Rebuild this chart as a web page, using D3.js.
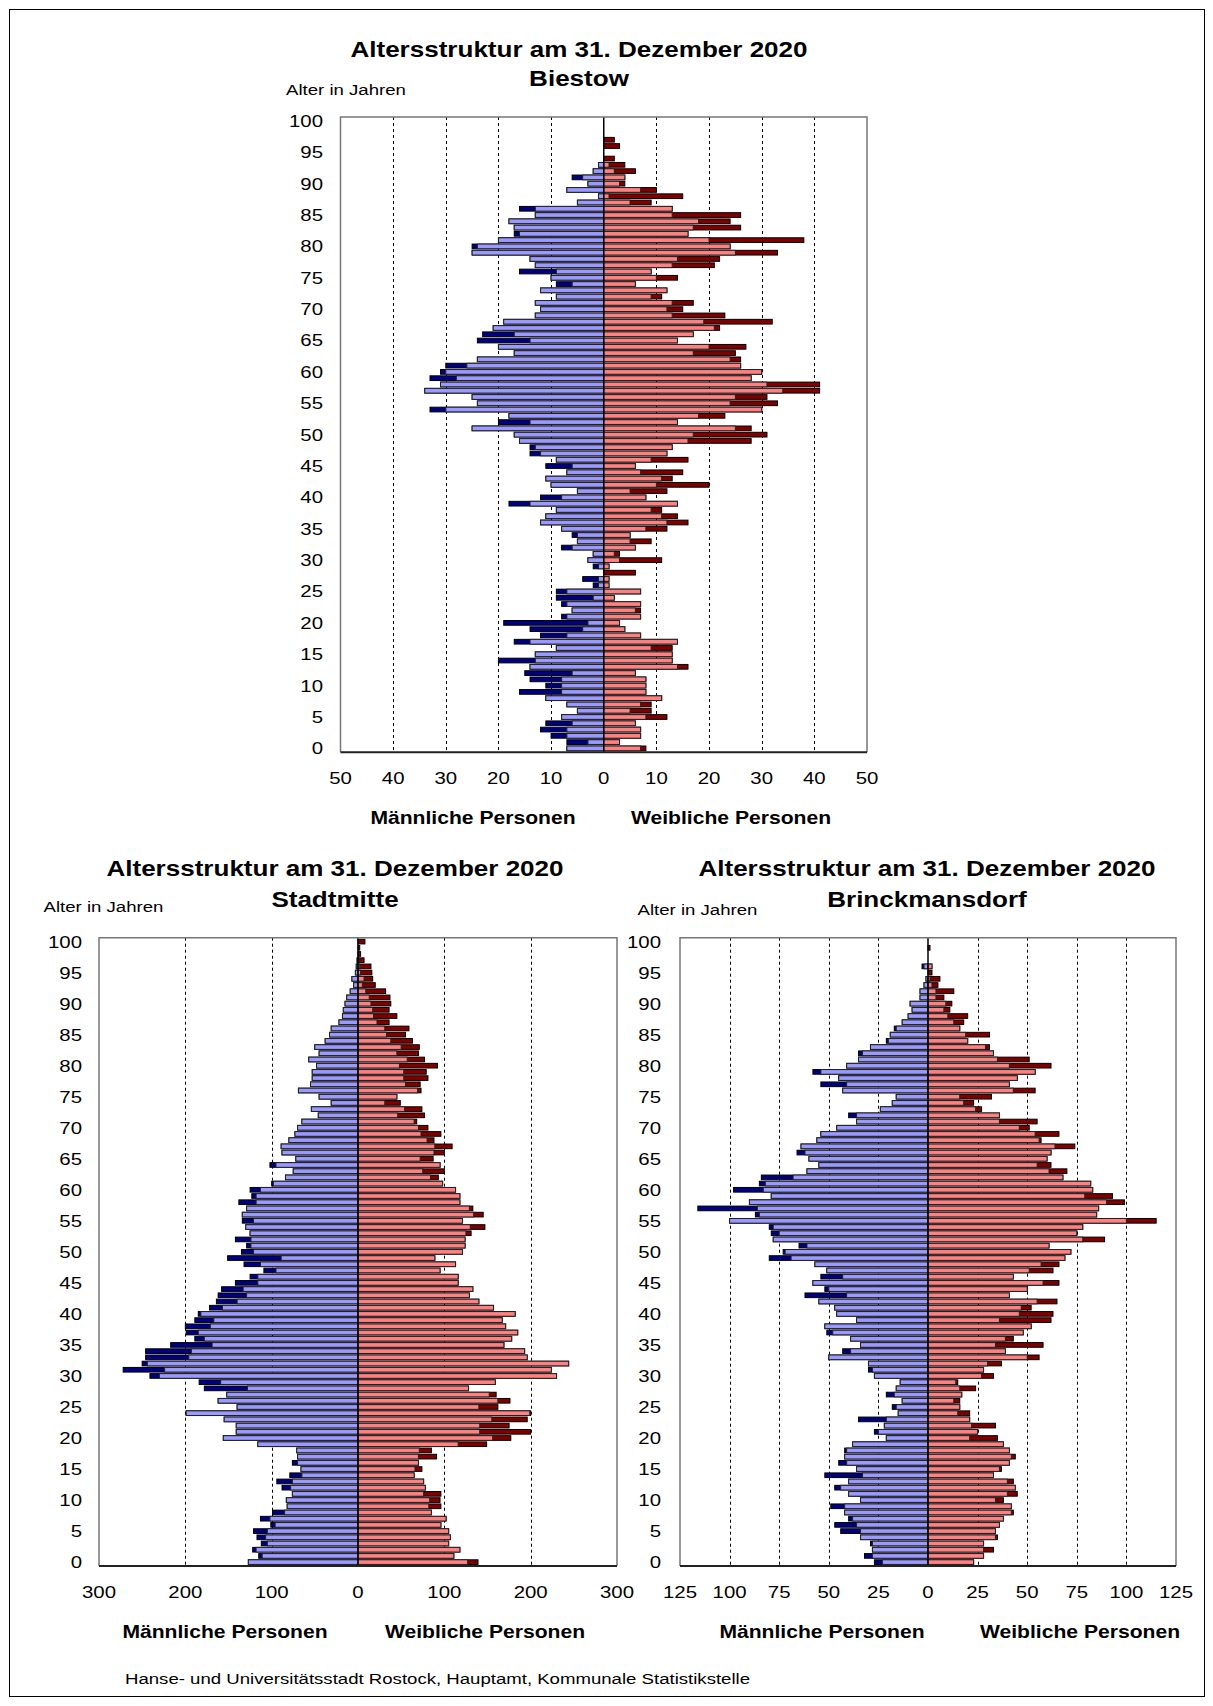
<!DOCTYPE html>
<html><head><meta charset="utf-8">
<script src="https://cdn.jsdelivr.net/npm/d3@7"></script>
<style>
html,body{margin:0;padding:0;background:#fff;}
svg text{font-family:"Liberation Sans",Arial,sans-serif;fill:#000;}
</style></head>
<body>
<svg id="c" width="1213" height="1706"></svg>
<script>
// ---------------- DATA (index = age 0..100) ----------------
const ages = d3.range(0, 101);
const titleLine1 = "Altersstruktur am 31. Dezember 2020";
const districts = ["Biestow", "Stadtmitte", "Brinckmansdorf"];
const yAxisTitle = "Alter in Jahren";
const maleLabel = "Männliche Personen";
const femaleLabel = "Weibliche Personen";
const sourceText = "Hanse- und Universitätsstadt Rostock, Hauptamt, Kommunale Statistikstelle";

const biestowMale = [7,7,10,12,11,8,5,7,11,16, 11,14,15,14,20,13,9,17,12,14, 19,8,6,8,9,9,2,4,0,2,
  3,2,8,5,6,8,12,11,9,18, 12,5,10,11,7,11,9,14,14,16, 17,25,20,18,33,24,25,34,31,33,
  31,30,24,17,20,24,23,21,19,13, 12,13,9,12,9,10,16,13,14,25, 25,20,17,17,18,13,16,5,1,7,
  3,6,2,1,0,0,0,0,0,0,0];
const biestowFemale = [8,3,7,7,6,12,9,9,11,8, 8,8,6,16,13,13,13,14,7,4, 3,7,7,7,2,7,1,1,6,1,
  11,3,6,9,5,12,16,14,11,14, 8,12,20,13,15,6,16,12,13,28, 31,28,14,23,30,33,31,41,41,28,
  30,26,26,25,27,14,17,22,32,23, 15,17,11,12,6,14,9,21,22,33, 24,38,16,26,24,26,13,9,15,10,
  4,4,6,4,2,0,3,2,0,0,0];

const stadtmitteMale = [127,115,122,112,117,121,101,113,99,82, 83,76,88,94,79,66,76,70,71,116,
  156,141,141,155,199,140,162,152,178,184, 241,272,250,246,246,217,189,199,200,189,
  185,172,164,162,158,142,125,109,132,151, 135,129,142,125,130,134,134,129,138,123,
  125,100,84,75,102,72,88,89,80,73, 70,65,46,54,31,45,69,55,53,53,
  48,57,45,50,38,33,31,22,18,17, 15,13,9,5,7,3,2,1,0,0,0];
const stadtmitteFemale = [139,111,118,105,107,105,96,102,85,96, 95,96,78,76,65,74,70,91,85,149,
  177,200,175,196,200,162,176,160,128,159, 230,224,244,196,193,169,178,185,171,167,
  182,157,140,129,133,116,116,95,113,89, 121,124,124,131,147,121,145,133,118,118,
  113,98,93,100,95,87,100,109,88,96, 81,68,77,74,49,45,73,72,81,79,
  92,77,70,71,63,55,59,36,45,36, 38,37,32,20,17,16,15,7,3,2,8];

const brinckMale = [27,32,28,29,34,44,47,40,42,49, 34,40,47,40,52,36,45,42,42,38,
  21,27,22,35,15,18,13,21,16,14, 27,30,30,50,43,34,39,51,52,36,
  46,47,55,62,52,58,54,51,57,80, 73,65,78,79,80,100,87,116,90,79,
  98,85,84,61,55,60,66,64,56,54, 46,36,40,24,18,16,43,54,45,58,
  41,35,35,29,21,19,17,13,10,8, 9,4,4,2,1,0,3,0,0,0,0];
const brinckFemale = [23,28,33,28,35,34,36,38,43,42, 38,45,44,43,33,37,41,44,41,38,
  35,25,34,21,21,16,16,17,24,15, 33,28,37,56,39,58,43,48,52,62,
  63,52,65,41,50,66,43,63,66,69, 72,61,89,75,78,115,85,86,99,93,
  83,82,68,70,62,60,62,74,57,66, 51,55,36,27,23,32,54,41,45,54,
  62,51,33,31,20,31,16,18,20,11, 12,8,13,5,6,2,2,0,0,1,0];

const biestowTicks = [50,40,30,20,10,0,10,20,30,40,50];
const stadtmitteTicks = [300,200,100,0,100,200,300];
const brinckTicks = [125,100,75,50,25,0,25,50,75,100,125];
const ageTicks = d3.range(0, 101, 5);

// ---------------- LAYOUT ----------------
const SX = 1.2; // horizontal stretch of the original lettering
const svg = d3.select("#c");
const colors = {mLight:"#9999ff", mDark:"#000080", fLight:"#ff8080", fDark:"#800000"};

svg.append("rect").attr("x",9.5).attr("y",9.5).attr("width",1195).attr("height",1687)
  .attr("fill","none").attr("stroke","#000").attr("stroke-width",1);

function txt(x, y, s, o) {
  return svg.append("text")
    .attr("transform", `translate(${x},${y}) scale(${SX},1)`)
    .attr("text-anchor", o.anchor || "middle")
    .attr("dy", "0.35em")
    .style("font-size", o.size + "px")
    .style("font-weight", o.weight || "normal")
    .text(s);
}

const panels = [
  {name:districts[0], male:biestowMale, female:biestowFemale, ticks:biestowTicks,
   x0:340.5, x1:867, y0:117, y1:752.3, titleX:579, titleY:49, nameY:78,
   alterX:286, alterY:90, labelRight:323, xTickY:778, sexY:818, mX:473, fX:731},
  {name:districts[1], male:stadtmitteMale, female:stadtmitteFemale, ticks:stadtmitteTicks,
   x0:99, x1:617, y0:937.7, y1:1566, titleX:335, titleY:868, nameY:899,
   alterX:43.5, alterY:907, labelRight:82, xTickY:1592, sexY:1632, mX:225, fX:485},
  {name:districts[2], male:brinckMale, female:brinckFemale, ticks:brinckTicks,
   x0:680, x1:1176, y0:937.7, y1:1566, titleX:927, titleY:868, nameY:899,
   alterX:637.5, alterY:909.5, labelRight:661, xTickY:1592, sexY:1632, mX:822, fX:1080}
];

panels.forEach(p => {
  const maxV = d3.max(p.ticks);
  const x = d3.scaleLinear().domain([-maxV, maxV]).range([p.x0, p.x1]);
  const y = d3.scaleBand().domain(ages.slice().reverse()).range([p.y0, p.y1]).padding(0.25);
  const g = svg.append("g");

  g.append("rect").attr("x",p.x0).attr("y",p.y0).attr("width",p.x1-p.x0).attr("height",p.y1-p.y0)
    .attr("fill","#fff");

  const tickVals = p.ticks.map((t,i) => i < (p.ticks.length-1)/2 ? -t : t);
  g.selectAll("line.grid").data(tickVals.filter(v => v !== 0 && Math.abs(v) !== maxV))
    .join("line").attr("class","grid")
    .attr("x1", d => Math.round(x(d))+0.5).attr("x2", d => Math.round(x(d))+0.5)
    .attr("y1", p.y0).attr("y2", p.y1)
    .attr("stroke","#000").attr("stroke-width",1).attr("stroke-dasharray","3,3");

  const rows = ages.map(a => ({age:a, m:p.male[a], f:p.female[a], lo:Math.min(p.male[a], p.female[a])}));
  const bh = y.bandwidth();
  g.selectAll("rect.md").data(rows.filter(d => d.m > 0)).join("rect")
    .attr("x", d => x(-d.m)).attr("width", d => x(0)-x(-d.m))
    .attr("y", d => y(d.age)).attr("height", bh)
    .attr("fill", colors.mDark).attr("stroke","#000").attr("stroke-width",1);
  g.selectAll("rect.fd").data(rows.filter(d => d.f > 0)).join("rect")
    .attr("x", x(0)).attr("width", d => x(d.f)-x(0))
    .attr("y", d => y(d.age)).attr("height", bh)
    .attr("fill", colors.fDark).attr("stroke","#000").attr("stroke-width",1);
  g.selectAll("rect.ml").data(rows.filter(d => d.lo > 0)).join("rect")
    .attr("x", d => x(-d.lo)).attr("width", d => x(0)-x(-d.lo))
    .attr("y", d => y(d.age)).attr("height", bh)
    .attr("fill", colors.mLight).attr("stroke","#222").attr("stroke-width",1);
  g.selectAll("rect.fl").data(rows.filter(d => d.lo > 0)).join("rect")
    .attr("x", x(0)).attr("width", d => x(d.lo)-x(0))
    .attr("y", d => y(d.age)).attr("height", bh)
    .attr("fill", colors.fLight).attr("stroke","#222").attr("stroke-width",1);

  g.append("line").attr("x1", x(0)).attr("x2", x(0)).attr("y1", p.y0).attr("y2", p.y1)
    .attr("stroke","#000").attr("stroke-width",1.5);
  g.append("path").attr("d", `M${p.x0},${p.y1}V${p.y0}H${p.x1}V${p.y1}`)
    .attr("fill","none").attr("stroke","#777").attr("stroke-width",1.5);
  g.append("line").attr("x1", p.x0).attr("x2", p.x1).attr("y1", p.y1).attr("y2", p.y1)
    .attr("stroke","#222").attr("stroke-width",2);

  ageTicks.forEach(a => txt(p.labelRight, y(a) + bh/2, String(a), {anchor:"end", size:17}));
  p.ticks.forEach((t,i) => txt(x(tickVals[i]), p.xTickY, String(t), {size:17}));

  txt(p.titleX, p.titleY, titleLine1, {size:21.7, weight:"bold"});
  txt(p.titleX, p.nameY, p.name, {size:21.7, weight:"bold"});
  txt(p.alterX, p.alterY, yAxisTitle, {anchor:"start", size:15.5});
  txt(p.mX, p.sexY, maleLabel, {size:17.6, weight:"bold"});
  txt(p.fX, p.sexY, femaleLabel, {size:17.6, weight:"bold"});
});

txt(125, 1679, sourceText, {anchor:"start", size:15.5});
</script>
</body></html>
